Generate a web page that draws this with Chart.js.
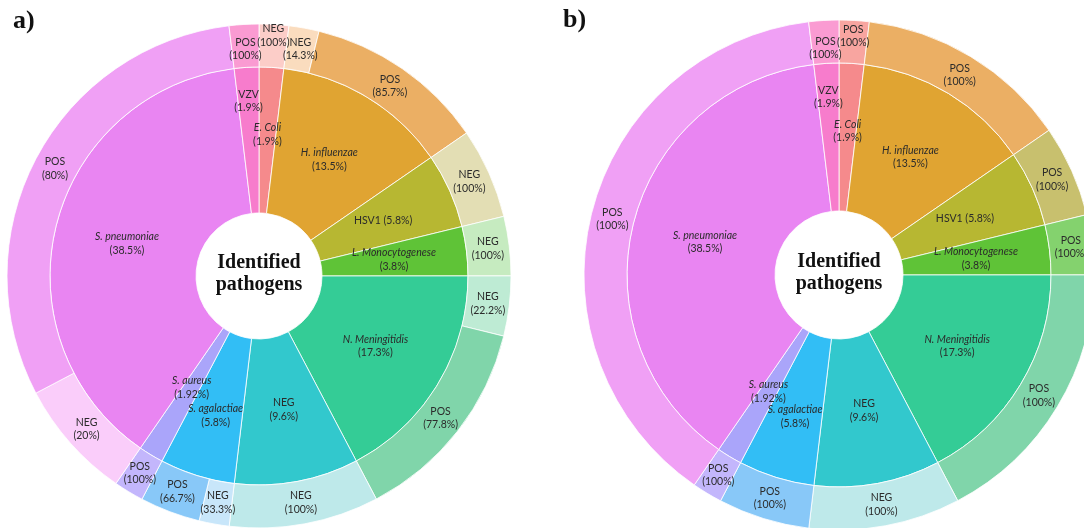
<!DOCTYPE html>
<html>
<head>
<meta charset="utf-8">
<script src="https://cdn.jsdelivr.net/npm/chart.js@4.4.1/dist/chart.umd.min.js"></script>
<style>
  html, body { margin: 0; padding: 0; background: #ffffff; }
  body { width: 1084px; height: 528px; overflow: hidden; position: relative; }
  canvas { position: absolute; }
  .panel { position: absolute; font: bold 26px "Liberation Serif", "Times New Roman", serif; line-height: 26px; color: #111111; }
</style>
</head>
<body>
<canvas id="chartA" width="560" height="560" style="left:-21px; top:-4px"></canvas>
<canvas id="chartB" width="560" height="560" style="left:559px; top:-5px"></canvas>
<div class="panel" style="left:13px; top:7px">a)</div>
<div class="panel" style="left:563px; top:6px">b)</div>
<script>
// Pathogens identified (inner ring), share of all cases in %
const pathogens = ['E. Coli', 'H. influenzae', 'HSV1', 'L. Monocytogenese', 'N. Meningitidis',
                   'NEG', 'S. agalactiae', 'S. aureus', 'S. pneumoniae', 'VZV'];
const pathogenShare = [1.9, 13.5, 5.8, 3.8, 17.3, 9.6, 5.8, 1.92, 38.5, 1.9];

// Panel a: test result split inside each pathogen (outer ring)
const resultParentA = [0, 1, 1, 2, 3, 4, 4, 5, 6, 6, 7, 8, 8, 9];
const resultTestA   = ['NEG', 'NEG', 'POS', 'NEG', 'NEG', 'NEG', 'POS', 'NEG', 'NEG', 'POS', 'POS', 'NEG', 'POS', 'POS'];
const resultPctA    = [100, 14.3, 85.7, 100, 100, 22.2, 77.8, 100, 33.3, 66.7, 100, 20, 80, 100];

// Panel b: test result split inside each pathogen (outer ring)
const resultParentB = [0, 1, 2, 3, 4, 5, 6, 7, 8, 9];
const resultTestB   = ['POS', 'POS', 'POS', 'POS', 'POS', 'NEG', 'POS', 'POS', 'POS', 'POS'];
const resultPctB    = [100, 100, 100, 100, 100, 100, 100, 100, 100, 100];

// Colours per pathogen: inner ring, positive tint, negative tint
const innerColor = ['#f58a8c', '#e0a432', '#b7b732', '#5fc337', '#34cc96',
                    '#32c8cd', '#32bef5', '#aaa5fa', '#e985f2', '#f77ccc'];
const posTint    = ['#f8a5a0', '#ebaf64', '#c8c06e', '#84d26e', '#80d5aa',
                    '#88dfe2', '#88c8f8', '#c3b6fc', '#f0a0f5', '#fa9bd2'];
const negTint    = ['#fccdc8', '#fadcbe', '#e3deb4', '#c6ebc0', '#beebd4',
                    '#bee9ea', '#c8e6fa', '#ddd8fd', '#facdfa', '#fcc8e8'];

const italicNames = new Set(['E. Coli', 'H. influenzae', 'L. Monocytogenese', 'N. Meningitidis',
                             'S. agalactiae', 'S. aureus', 'S. pneumoniae']);
const oneLineNames = new Set(['HSV1']);

const LABEL_FONT = '"Lato", "Open Sans", sans-serif';
const LABEL_SIZE = 10.5;
const LINE_H = 13.5;

function innerLabelLines() {
  return pathogens.map((name, i) => {
    const pct = '(' + pathogenShare[i] + '%)';
    if (oneLineNames.has(name)) return [{ text: name + ' ' + pct, italic: false }];
    return [{ text: name, italic: italicNames.has(name) }, { text: pct, italic: false }];
  });
}

function outerDataset(parents, tests, pcts, radiusTweaks) {
  return {
    data: parents.map((p, i) => pathogenShare[p] * pcts[i] / 100),
    backgroundColor: parents.map((p, i) => tests[i] === 'POS' ? posTint[p] : negTint[p]),
    labelLines: tests.map((t, i) => [{ text: t, italic: false }, { text: '(' + pcts[i] + '%)', italic: false }]),
    labelRadius: parents.map(p => radiusTweaks[pathogens[p]] ?? 0.5),
    borderColor: 'rgba(255,255,255,0.8)',
    borderWidth: 1,
    weight: 43
  };
}

function innerDataset(weight, radiusTweaks) {
  return {
    data: pathogenShare.slice(),
    backgroundColor: innerColor,
    labelLines: innerLabelLines(),
    labelRadius: pathogens.map(n => radiusTweaks[n] ?? 0.5),
    borderColor: 'rgba(255,255,255,0.8)',
    borderWidth: 1,
    weight: weight
  };
}

// Text inside every slice, centred on the slice
const sliceLabels = {
  id: 'sliceLabels',
  afterDatasetsDraw(chart) {
    const ctx = chart.ctx;
    ctx.save();
    ctx.fillStyle = '#2b2b2b';
    ctx.textAlign = 'center';
    ctx.textBaseline = 'middle';
    chart.data.datasets.forEach((ds, di) => {
      const meta = chart.getDatasetMeta(di);
      meta.data.forEach((arc, i) => {
        const p = arc.getProps(['x', 'y', 'startAngle', 'endAngle', 'innerRadius', 'outerRadius'], true);
        const mid = (p.startAngle + p.endAngle) / 2;
        const f = ds.labelRadius[i];
        const r = p.innerRadius + f * (p.outerRadius - p.innerRadius);
        const cx = p.x + Math.cos(mid) * r;
        const cy = p.y + Math.sin(mid) * r;
        const lines = ds.labelLines[i];
        let y = cy - (lines.length - 1) * LINE_H / 2;
        lines.forEach(l => {
          ctx.font = (l.italic ? 'italic ' : '') + LABEL_SIZE + 'px ' + LABEL_FONT;
          ctx.fillText(l.text, cx, y);
          y += LINE_H;
        });
      });
    });
    ctx.restore();
  }
};

// Title in the hole of the doughnut
const centreTitle = {
  id: 'centreTitle',
  afterDraw(chart) {
    const ctx = chart.ctx;
    const a = chart.getDatasetMeta(0).data[0];
    const cx = a.x, cy = a.y;
    ctx.save();
    ctx.fillStyle = '#111111';
    ctx.textAlign = 'center';
    ctx.textBaseline = 'alphabetic';
    ctx.font = 'bold 20px "Liberation Serif", "Times New Roman", serif';
    ctx.fillText('Identified', cx, cy - 8);
    ctx.fillText('pathogens', cx, cy + 14);
    ctx.restore();
  }
};

function makeChart(id, outer, inner, radius, cutout) {
  return new Chart(document.getElementById(id), {
    type: 'doughnut',
    data: { labels: outer.data.map((_, i) => i), datasets: [outer, inner] },
    options: {
      responsive: false,
      animation: false,
      events: [],
      radius: radius,
      cutout: cutout,
      layout: { padding: 0 },
      plugins: { legend: { display: false }, tooltip: { enabled: false } }
    },
    plugins: [sliceLabels, centreTitle]
  });
}

makeChart('chartA',
  outerDataset(resultParentA, resultTestA, resultPctA, { 'E. Coli': 0.74, 'VZV': 0.42 }),
  innerDataset(146, { 'VZV': 0.77, 'E. Coli': 0.54, 'S. aureus': 0.46, 'S. agalactiae': 0.57 }),
  252, '25%');

makeChart('chartB',
  outerDataset(resultParentB, resultTestB, resultPctB, { 'E. Coli': 0.63, 'VZV': 0.36 }),
  innerDataset(148, { 'VZV': 0.77, 'E. Coli': 0.54, 'S. aureus': 0.49, 'S. agalactiae': 0.57 }),
  255, '25.1%');
</script>
</body>
</html>
